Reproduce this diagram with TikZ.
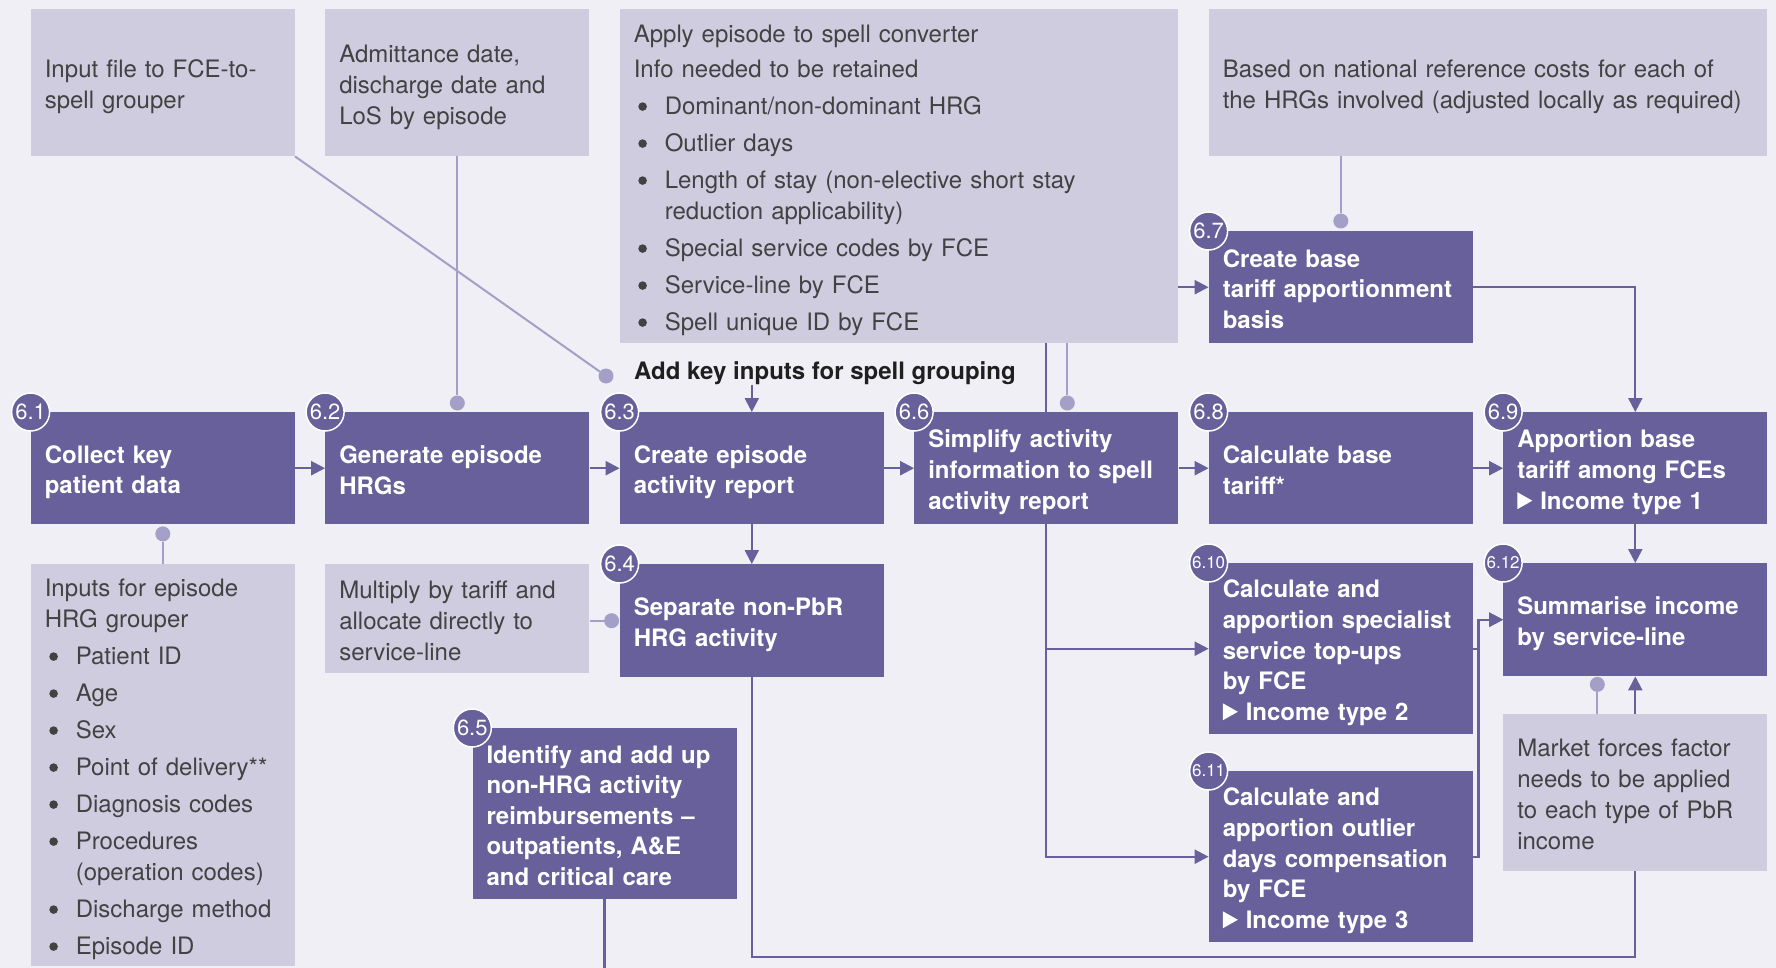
\documentclass[tikz,border=0pt]{standalone}
\usepackage{fontspec}
\setmainfont{TeX Gyre Heros}
\usetikzlibrary{arrows.meta}

\definecolor{pagebg}{HTML}{EFEFF5}
\definecolor{notefill}{HTML}{CFCCE0}
\definecolor{taskfill}{HTML}{67609A}
\definecolor{feedline}{HTML}{A49FC7}
\definecolor{notetext}{HTML}{424242}

% bullet line with hanging indent
\newcommand{\pbullet}{\tikz[baseline={(0pt,-8pt)}]\fill[notetext] (0pt,0pt) circle (4.3pt);}
\newcommand{\pitem}[1]{\par\vspace{6pt}\noindent\hangindent=31pt\hangafter=1\makebox[31pt][l]{\hspace{4.5pt}\pbullet}#1}
\newcommand{\itype}[1]{\tikz[baseline=0pt]\fill[white] (0pt,0pt) -- (0pt,17pt) -- (15pt,8.5pt) -- cycle;\hspace{8pt}Income type #1}

\tikzset{
  boxtext/.style={execute at begin node={\rule{0pt}{26pt}}, execute at end node={\rule[-5pt]{0pt}{5pt}}},
  note/.style={boxtext, fill=notefill, text=notetext, anchor=north west, text width=236pt,
    inner xsep=14pt, inner ysep=0pt, align=left, font=\fontsize{24}{31}\selectfont},
  task/.style={boxtext, fill=taskfill, text=white, anchor=north west, text width=236pt,
    minimum height=112pt, inner xsep=14pt, inner ysep=0pt, align=left,
    font=\fontsize{24}{30.6}\selectfont\bfseries},
  stepnum/.style={circle, fill=taskfill, draw=white, line width=1.5pt, text=white,
    minimum size=38pt, inner sep=0pt},
  flow/.style={draw=taskfill, line width=2.2pt, -{Triangle[length=14pt,width=14pt]}},
  flowline/.style={draw=taskfill, line width=2.2pt},
  feed/.style={draw=feedline, line width=2pt},
  joindot/.style={circle, fill=feedline, minimum size=15pt, inner sep=0pt},
}

\begin{document}
\begin{tikzpicture}[x=1pt, y=-1pt]
\useasboundingbox (0,0) rectangle (1776,968);
\fill[pagebg] (0,0) rectangle (1776,968);
\coordinate (sumline) at (0,957);
\coordinate (offpage) at (0,975);

% tasks
\node[task] (t61) at (30.6,412) {Collect key\\patient data};
\node[task] (t62) at (325.1,412) {Generate episode\\HRGs};
\node[task] (t63) at (619.6,412) {Create episode\\activity report};
\node[task] (t66) at (914.1,412) {Simplify activity\\information to spell\\activity report};
\node[task] (t68) at (1208.6,412) {Calculate base\\tariff*};
\node[task] (t69) at (1503.1,412) {Apportion base\\tariff among FCEs\\\itype{1}};
\node[task] (t67) at (1208.6,231) {Create base\\tariff apportionment\\basis};
\node[task, minimum height=113pt] (t64) at (619.6,564) {Separate non-PbR\\HRG activity};
\node[task, minimum height=171pt] (t65) at (472.3,728) {Identify and add up\\non-HRG activity\\reimbursements --\\outpatients, A\&E\\and critical care};
\node[task, minimum height=171pt] (t610) at (1208.6,563) {Calculate and\\apportion specialist\\service top-ups\\by FCE\\\itype{2}};
\node[task, minimum height=171pt] (t611) at (1208.6,771) {Calculate and\\apportion outlier\\days compensation\\by FCE\\\itype{3}};
\node[task, minimum height=113pt] (t612) at (1503.1,563) {Summarise income\\by service-line};

\node[anchor=west, inner sep=0pt, text=black!88, font=\fontsize{24}{30}\selectfont\bfseries] (addkey) at (634,373) {Add key inputs for spell grouping};

% flows
\foreach \a/\b in {61/62, 62/63, 63/66, 66/68, 68/69}
  \draw[flow] (t\a) -- (t\b);
\draw[flow] (t63.north |- addkey.south) -- (t63.north);
\draw[flow] (t63) -- (t64);
\draw[flow] (t69) -- (t612);
\draw[flow] (t66.north) |- (t67.west);
\draw[flow] (t66.south) |- (t610.west);
\draw[flow] (t66.south) |- (t611.west);
\draw[flow] (t67.east) -| (t69.north);
\draw[flow] (t610.east) -- ++(5.5,0) |- (t612.west);
\draw[flow] (t611.east) -- ++(5.5,0) |- (t612.west);
\draw[flow] (t64.south) -- (t64.south |- sumline) -| (t612.south);
\draw[flowline] (t65.south) -- (t65.south |- offpage);

% notes
\node[note, minimum height=147pt] (in1) at (30.6,9) {Input file to FCE-to-\\spell grouper};
\node[note, minimum height=147pt] (adm) at (325.1,9) {Admittance date,\\discharge date and\\LoS by episode};
\node[note, text width=530pt, minimum height=334pt] (conv) at (619.6,9) {Apply episode to spell converter\par\vspace{4pt}Info needed to be retained
\pitem{Dominant/non-dominant HRG}
\pitem{Outlier days}
\pitem{Length of stay (non-elective short stay\newline reduction applicability)}
\pitem{Special service codes by FCE}
\pitem{Service-line by FCE}
\pitem{Spell unique ID by FCE}};
\node[note, text width=530pt, minimum height=147pt] (based) at (1208.6,9) {Based on national reference costs for each of\\the HRGs involved (adjusted locally as required)};
\node[note, minimum height=402pt] (inputs) at (30.6,564) {Inputs for episode\\HRG grouper
\pitem{Patient ID}
\pitem{Age}
\pitem{Sex}
\pitem{Point of delivery**}
\pitem{Diagnosis codes}
\pitem{Procedures\newline (operation codes)}
\pitem{Discharge method}
\pitem{Episode ID}};
\node[note, minimum height=109pt] (mult) at (325.1,564) {Multiply by tariff and\\allocate directly to\\service-line};
\node[note, minimum height=157pt] (mkt) at (1503.1,713.6) {Market forces factor\\needs to be applied\\to each type of PbR\\income};

% feeds
\node[joindot] (adddot) at (606,376) {};
\node[joindot] (admdot) at ([yshift=9pt]t62.north) {};
\node[joindot] (basedot) at ([yshift=10pt]t67.north) {};
\node[joindot] (t61dot) at ([yshift=-9.5pt]t61.south) {};
\node[joindot] (multdot) at ([xshift=-8pt]t64.west) {};
\node[joindot] (convdot) at ([xshift=21pt,yshift=9pt]t66.north) {};
\node[joindot] (mktdot) at ([xshift=-38pt,yshift=-8pt]t612.south) {};
\draw[feed] (in1.south east) -- (adddot);
\draw[feed] (adm.south) -- (admdot);
\draw[feed] (basedot |- based.south) -- (basedot);
\draw[feed] (t61dot) -- (inputs.north);
\draw[feed] (multdot) -- (mult.east |- multdot);
\draw[feed] (convdot) -- (convdot |- conv.south);
\draw[feed] (mktdot) -- (mktdot |- mkt.north);

% step numbers
\foreach \n/\lbl/\fs in {61/6.1/22, 62/6.2/22, 63/6.3/22, 64/6.4/22, 65/6.5/22, 66/6.6/22, 67/6.7/22, 68/6.8/22, 69/6.9/22, 610/6.10/17, 611/6.11/17, 612/6.12/17}
  \node[stepnum, font=\fontsize{\fs}{\fs}\selectfont] (s\n) at (t\n.north west) {\lbl};
\end{tikzpicture}
\end{document}
